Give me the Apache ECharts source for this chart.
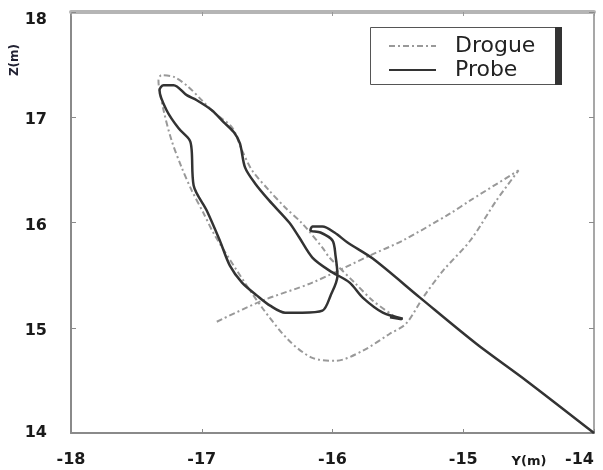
<!DOCTYPE html>
<html>
<head>
<meta charset="utf-8">
<script src="https://cdn.jsdelivr.net/npm/echarts@6/dist/echarts.min.js"></script>
<style>html,body{margin:0;padding:0;background:#fff;overflow:hidden;}#c{width:603px;height:470px;}</style>
</head>
<body>
<div id="c"></div>
<script>
var xTicks = [-18, -17, -16, -15, -14];
var yTicks = [14, 15, 16, 17, 18];
var seriesNames = ['Drogue', 'Probe'];

var drogueY = [-16.885, -16.538, -16.154, -15.715, -15.462, -15.1, -14.946, -14.577,
  -14.746, -14.946, -15.154, -15.308, -15.438, -15.562, -15.769, -15.977, -16.154, -16.331,
  -16.538, -16.731, -16.908, -16.985, -17.077, -17.154, -17.231, -17.292, -17.331, -17.308,
  -17.208, -17.1, -17.0, -16.9, -16.769, -16.692, -16.615, -16.485, -16.362, -16.231,
  -16.077, -16.023, -15.823, -15.692, -15.523];
var drogueZ = [15.057, 15.257, 15.429, 15.686, 15.829, 16.086, 16.21, 16.495,
  16.21, 15.829, 15.543, 15.286, 15.038, 14.943, 14.781, 14.686, 14.714, 14.876,
  15.19, 15.543, 15.895, 16.086, 16.305, 16.524, 16.781, 17.067, 17.352, 17.4,
  17.381, 17.286, 17.162, 17.038, 16.905, 16.686, 16.495, 16.305, 16.143, 15.99,
  15.762, 15.667, 15.419, 15.257, 15.105];

var probeY = [-14.0, -14.515, -14.9, -15.331, -15.692, -15.885, -15.985, -16.077, -16.154,
  -16.169, -16.092, -16.0, -15.977, -15.962, -16.015, -16.077, -16.231, -16.362, -16.477,
  -16.577, -16.692, -16.785, -16.862, -16.962, -17.062, -17.077, -17.092, -17.177, -17.269,
  -17.323, -17.292, -17.215, -17.115, -17.038, -16.923, -16.831, -16.754, -16.708, -16.669,
  -16.592, -16.485, -16.331, -16.254, -16.154, -16.023, -15.869, -15.769, -15.615, -15.462,
  -15.56, -15.47];
var probeZ = [14.0, 14.495, 14.848, 15.286, 15.657, 15.81, 15.905, 15.962, 15.962,
  15.924, 15.905, 15.829, 15.686, 15.495, 15.305, 15.162, 15.143, 15.143, 15.21,
  15.305, 15.429, 15.59, 15.829, 16.114, 16.352, 16.686, 16.781, 16.895, 17.067,
  17.257, 17.305, 17.305, 17.21, 17.162, 17.067, 16.952, 16.857, 16.752, 16.524,
  16.371, 16.21, 16.0, 15.857, 15.667, 15.543, 15.429, 15.286, 15.143, 15.086,
  15.1, 15.08];

function zip(a, b) { return a.map(function (v, i) { return [v, b[i]]; }); }

var FF = 'DejaVu Sans';
var labelFont = { fontFamily: FF, fontWeight: 'bold', fontSize: 16, color: '#1a1a1a' };

var chart = echarts.init(document.getElementById('c'), null, { renderer: 'canvas' });
chart.setOption({
  animation: false,
  backgroundColor: '#fff',
  grid: { left: 71, right: 9, top: 12, bottom: 37, containLabel: false, outerBoundsMode: 'none' },
  xAxis: [{
    type: 'value', position: 'bottom', min: xTicks[0], max: xTicks[xTicks.length - 1], interval: 1,
    axisLine: { show: true, onZero: false, lineStyle: { color: '#8a8a8a', width: 2 } },
    axisTick: { show: true, inside: true, length: 4, lineStyle: { color: '#8a8a8a' } },
    splitLine: { show: false },
    axisLabel: Object.assign({ margin: 19, alignMaxLabel: 'right', formatter: function (v) { return String(v); } }, labelFont)
  }, {
    type: 'value', position: 'top', min: xTicks[0], max: xTicks[xTicks.length - 1], interval: 1,
    axisLine: { show: true, onZero: false, lineStyle: { color: '#b5b5b5', width: 4 } },
    axisTick: { show: true, inside: true, length: 4, lineStyle: { color: '#999' } },
    splitLine: { show: false }, axisLabel: { show: false }
  }],
  yAxis: [{
    type: 'value', position: 'left', min: yTicks[0], max: yTicks[yTicks.length - 1], interval: 1,
    axisLine: { show: true, onZero: false, lineStyle: { color: '#8a8a8a', width: 2 } },
    axisTick: { show: true, inside: true, length: 5, lineStyle: { color: '#8a8a8a' } },
    splitLine: { show: false },
    axisLabel: Object.assign({
      margin: 24,
      formatter: function (v) {
        if (v === yTicks[yTicks.length - 1]) return '{t|' + v + '}';
        if (v === yTicks[0]) return '{b|' + v + '}';
        return '{m|' + v + '}';
      },
      rich: {
        t: { fontFamily: FF, fontWeight: 'bold', fontSize: 16, color: '#1a1a1a', padding: [16, 0, 0, 0] },
        m: { fontFamily: FF, fontWeight: 'bold', fontSize: 16, color: '#1a1a1a', padding: [6, 0, 0, 0] },
        b: { fontFamily: FF, fontWeight: 'bold', fontSize: 16, color: '#1a1a1a' }
      }
    }, labelFont)
  }, {
    type: 'value', position: 'right', min: yTicks[0], max: yTicks[yTicks.length - 1], interval: 1,
    axisLine: { show: true, onZero: false, lineStyle: { color: '#8a8a8a', width: 1.5 } },
    axisTick: { show: true, inside: true, length: 5, lineStyle: { color: '#8a8a8a' } },
    splitLine: { show: false }, axisLabel: { show: false }
  }],
  legend: {
    orient: 'vertical', left: 383, top: 30, itemWidth: 47, itemHeight: 14, itemGap: 2, z: 10,
    itemStyle: { opacity: 0 },
    textStyle: { fontFamily: FF, fontSize: 22, color: '#222', padding: [0, 0, 0, 14] },
    data: seriesNames
  },
  graphic: [
    { type: 'rect', z: 0, shape: { x: 370.5, y: 27.5, width: 188, height: 57 },
      style: { fill: '#fff', stroke: '#555', lineWidth: 1 } },
    { type: 'rect', z: 1, shape: { x: 555, y: 27, width: 7, height: 58 }, style: { fill: '#333' } },
    { type: 'text', x: 15, y: 60, rotation: Math.PI / 2,
      style: { text: 'Z(m)', fontFamily: FF, fontWeight: 'bold', fontSize: 12,
        fill: '#223', align: 'center', verticalAlign: 'middle' } },
    { type: 'text', x: 529, y: 462,
      style: { text: 'Y(m)', fontFamily: FF, fontWeight: 'bold', fontSize: 13,
        fill: '#1a1a1a', align: 'center', verticalAlign: 'middle' } }
  ],
  series: [{
    name: seriesNames[0], type: 'line', data: zip(drogueY, drogueZ), symbol: 'none', smooth: 0.3,
    lineStyle: { color: '#999', width: 2, type: [6, 3, 2, 3] }, itemStyle: { color: '#999' }, z: 3
  }, {
    name: seriesNames[1], type: 'line', data: zip(probeY, probeZ), symbol: 'none', smooth: 0.3,
    lineStyle: { color: '#333', width: 2.5 }, itemStyle: { color: '#333' }, z: 4
  }]
});
</script>
</body>
</html>
